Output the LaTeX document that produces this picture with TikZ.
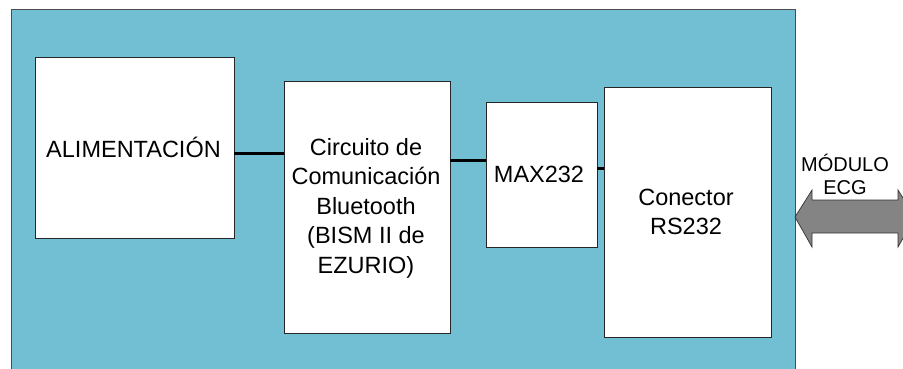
\documentclass[tikz,border=0pt]{standalone}
\usepackage{fontspec}
\setmainfont{Liberation Sans}
\definecolor{panel}{RGB}{114,190,211}
\definecolor{arrowgray}{RGB}{132,132,132}
\begin{document}
\begin{tikzpicture}[x=1pt,y=-1pt,
  block/.style={draw=black!85,line width=0.9pt,fill=white},
  link/.style={line width=3pt,black},
  lbl/.style={font=\fontsize{23.5}{29.5}\selectfont,align=center,inner sep=0pt}]
\useasboundingbox (0,0) rectangle (903,369);
% board
\fill[panel] (11,10) rectangle (795,372);
\draw[black!70,line width=1pt] (11,372) -- (11,10) -- (795,10) -- (795,372);
% blocks
\draw[block] (35,57) rectangle (234,238);
\node[lbl] (alim) at (133.5,147) {ALIMENTACIÓN};
\draw[block] (284,81) rectangle (450,333);
\node[lbl] (bt) at (366,208) {Circuito de\\Comunicación\\Bluetooth\\(BISM II de\\EZURIO)};
\draw[block] (486,102) rectangle (597,247);
\node[lbl] (max) at (539,174) {MAX232};
\draw[block] (604,87) rectangle (771,337);
\node[lbl] (rs) at (686,212) {Conector\\RS232};
% connections
\coordinate (a1) at (234,153); \coordinate (a2) at (284,153);
\coordinate (b1) at (450,160); \coordinate (b2) at (486,160);
\coordinate (c1) at (597,168); \coordinate (c2) at (604,168);
\draw[link] (a1) -- (a2);
\draw[link] (b1) -- (b2);
\draw[link] (c1) -- (c2);
% external link
\node[lbl,font=\fontsize{20}{23}\selectfont] (ecg) at (845,174) {MÓDULO\\ECG};
\draw[fill=arrowgray,draw=black!80,line width=0.7pt]
  (795,217) -- (812,190) -- (812,200) -- (898,200) -- (898,190) -- (915,217)
  -- (898,247) -- (898,233) -- (812,233) -- (812,247) -- cycle;
\end{tikzpicture}
\end{document}
